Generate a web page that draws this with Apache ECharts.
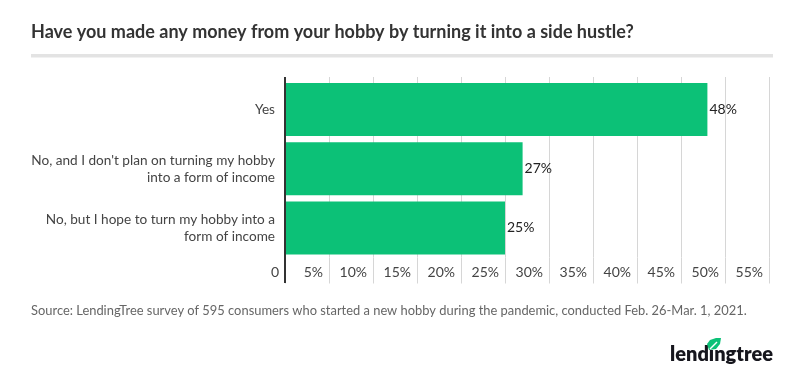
<!DOCTYPE html>
<html><head><meta charset="utf-8">
<script src="https://cdn.jsdelivr.net/npm/echarts@6/dist/echarts.min.js"></script>
<style>html,body{margin:0;padding:0;background:#fff}#c{width:800px;height:383px}</style>
</head><body><div id="c"></div>
<script>
const categories = ["Yes", "No, and I don't plan on turning my hobby\ninto a form of income", "No, but I hope to turn my hobby into a\nform of income"];
const values = [48, 27, 25];
const xTicks = [0, 5, 10, 15, 20, 25, 30, 35, 40, 45, 50, 55];
const titleText = "Have you made any money from your hobby by turning it into a side hustle?";
const sourceText = "Source: LendingTree survey of 595 consumers who started a new hobby during the pandemic, conducted Feb. 26-Mar. 1, 2021.";

const chart = echarts.init(document.getElementById('c'), null, {renderer: 'canvas'});
const F = 'Lato, "Noto Sans", sans-serif';
const option = {
  animation: false,
  textStyle: {fontFamily: F},
  grid: {left: 285, right: 31, top: 80, bottom: 125.5, containLabel: false},
  xAxis: [{
    type: 'value', min: 0, max: xTicks[xTicks.length - 1], interval: 5, position: 'bottom',
    axisLine: {show: false},
    axisTick: {show: true, length: 26, lineStyle: {color: '#d6d6d6', width: 1}},
    splitLine: {show: true, lineStyle: {color: '#d6d6d6', width: 1}},
    axisLabel: {
      margin: 8, fontSize: 14, color: '#444', fontFamily: F, align: 'right', padding: [0, 6, 0, 0],
      formatter: v => v === 0 ? '0' : v + '%'
    }
  }, {
    type: 'value', min: 0, max: xTicks[xTicks.length - 1], interval: 5, position: 'top',
    axisLine: {show: false}, axisLabel: {show: false}, splitLine: {show: false},
    axisTick: {show: true, length: 3, lineStyle: {color: '#d6d6d6', width: 1}}
  }],
  yAxis: {
    type: 'category', data: categories, inverse: true,
    axisLine: {show: false},
    axisTick: {show: false},
    axisLabel: {margin: 10, fontSize: 13.6, lineHeight: 17, color: '#444', fontFamily: F, align: 'right'}
  },
  series: [{
    type: 'bar', data: values, barWidth: 53, xAxisIndex: 0,
    itemStyle: {color: '#0cc177'},
    label: {show: true, position: 'right', distance: 2, formatter: p => p.value + '%', fontSize: 14, color: '#222', fontFamily: F}
  }]
};
chart.setOption(option);

const x0 = chart.convertToPixel({xAxisIndex: 0}, 0);
chart.setOption({
  graphic: [
    {type: 'text', x: 31, y: 23, style: {text: titleText, font: '700 18px ' + F, fill: '#333'}},
    {type: 'rect', shape: {x: 31, y: 54, width: 742, height: 3.5}, style: {fill: '#e3e3e3'}},
    {type: 'line', shape: {x1: x0, y1: 77, x2: x0, y2: 283}, style: {stroke: '#333', lineWidth: 2}, z: 100},
    {type: 'text', x: 31, y: 304, style: {text: sourceText, font: '12.9px ' + F, fill: '#666'}},
    {type: 'text', x: 670, y: 345, style: {text: 'lendingtree', font: '800 20px ' + F, fill: '#16161d'}},
    {type: 'polygon', shape: {points: [[709, 350], [707, 344], [710, 340], [716, 338], [721, 338], [720, 344], [716, 349]]}, style: {fill: '#0cc177'}},
    {type: 'line', shape: {x1: 710, y1: 349, x2: 717, y2: 342}, style: {stroke: '#fff', lineWidth: 1.5}}
  ]
});
</script>
</body></html>
